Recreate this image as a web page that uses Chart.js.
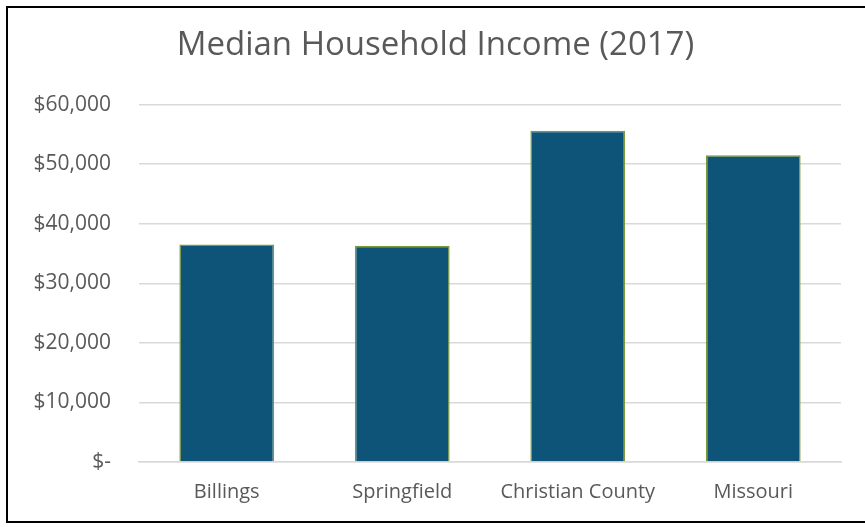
<!DOCTYPE html>
<html>
<head>
<meta charset="utf-8">
<script src="https://cdn.jsdelivr.net/npm/chart.js@4"></script>
<style>
  body { margin: 0; background: #fff; overflow: hidden; }
  #frame { position: absolute; left: 6px; top: 6px; width: 880px; height: 517px; border: 2px solid #000; box-sizing: border-box; }
  #wrap { position: absolute; left: 0; top: 0; width: 865px; height: 527px; }
</style>
</head>
<body>
<div id="frame"></div>
<div id="wrap"><canvas id="gp" width="865" height="527"></canvas></div>
<script>
const ctx = document.getElementById("gp");

const places = ["Billings", "Springfield", "Christian County", "Missouri"];
const income = [36500, 36300, 55600, 51500]; // median household income 2017
const yTicks = [0, 10000, 20000, 30000, 40000, 50000, 60000];

const fontFam = "'Open Sans', 'Noto Sans', sans-serif";

const chartData = {
    labels: places,
    datasets: [
        {
            label: "Median Household Income",
            data: income,
            backgroundColor: "#0E5479",
            borderColor: "#7B9A3C",
            borderWidth: 1.5,
            categoryPercentage: 1,
            barPercentage: 0.54,
        },
    ],
};

const chartOptions = {
    responsive: false,
    animation: false,
    // left padding nudges the title right; y labels still fit inside the scale box
    layout: { padding: { left: 30, right: 24, top: 0, bottom: 0 } },
    plugins: {
        legend: { display: false },
        tooltip: { enabled: false },
        title: {
            display: true,
            text: "Median Household Income (2017)",
            color: "#595959",
            font: { family: fontFam, size: 33, weight: "normal" },
            padding: { top: 26, bottom: 39 },
        },
    },
    scales: {
        x: {
            grid: { display: false, drawTicks: false },
            border: { display: true, color: "#D9D9D9", width: 1.5 },
            ticks: { color: "#595959", font: { family: fontFam, size: 20 }, padding: 18 },
            afterFit: (s) => { s.height = 65; },
        },
        y: {
            min: 0,
            max: 60000,
            afterBuildTicks: (s) => { s.ticks = yTicks.map(v => ({ value: v })); },
            grid: { color: "#D9D9D9", lineWidth: 1.5, drawTicks: false },
            border: { display: false },
            ticks: {
                color: "#595959",
                font: { family: fontFam, size: 21 },
                padding: 28,
                callback: (v) => v === 0 ? "$-" : "$" + v.toLocaleString("en-US"),
            },
            afterFit: (s) => { s.width = 109; },
        },
    },
};

new Chart(ctx, {
    type: "bar",
    data: chartData,
    options: chartOptions,
});
</script>
</body>
</html>
